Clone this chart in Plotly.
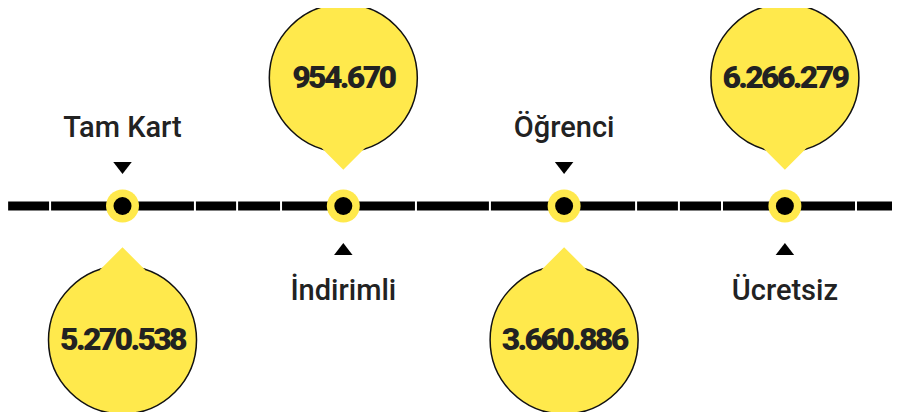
"""Kart tipine göre yolcu sayısı — zaman çizelgesi görünümünde baloncuklar."""

import plotly.graph_objects as go

# --------------------------------------------------------------------------- data
CATEGORIES = ["Tam Kart", "İndirimli", "Öğrenci", "Ücretsiz"]
VALUES = [5270538, 954670, 3660886, 6266279]

# small white notches that split the timeline bar (in category-index units)
LINE_GAPS = [-0.328, 0.328, 0.519, 0.718, 1.329, 1.664, 2.326, 2.520, 2.715, 3.322]
LINE_START, LINE_END = -0.518, 3.507

# --------------------------------------------------------------------------- style
YELLOW = "#FFE94C"
INK = "#222222"
LABEL_FONT = dict(family="Roboto, 'Noto Sans', sans-serif", size=29, color=INK, weight=500)
VALUE_FONT = dict(family="Roboto, sans-serif", size=32, color=INK, weight=900)

# vertical offsets from the timeline (px-like units, + is up)
BUBBLE_Y = {"top": 128, "bottom": -134}
VALUE_Y = {"top": 126, "bottom": -136}
POINTER_Y = {"top": 59, "bottom": -64}
LABEL_Y = {"top": 76, "bottom": -87}
ARROW_Y = {"top": 40, "bottom": -45}


def fmt(v: int) -> str:
    s = f"{v:,}".replace(",", ".")
    return f'<span style="letter-spacing:-2.7px">{s}</span>'


xs = list(range(len(CATEGORIES)))
# bubbles alternate: below the line for even items, above for odd ones; label goes opposite
bubble_side = ["top" if i % 2 else "bottom" for i in xs]
label_side = ["bottom" if s == "top" else "top" for s in bubble_side]

fig = go.Figure()

# timeline bar
fig.add_scatter(
    x=[LINE_START, LINE_END],
    y=[0, 0],
    mode="lines",
    line=dict(color="#000000", width=9),
)
fig.add_scatter(
    x=LINE_GAPS,
    y=[0] * len(LINE_GAPS),
    mode="markers",
    marker=dict(symbol="line-ns", size=12, line=dict(color="white", width=2)),
)

# dots on the line
fig.add_scatter(
    x=xs, y=[0] * len(xs), mode="markers",
    marker=dict(symbol="circle", size=33, color=YELLOW, line=dict(width=0)),
)
fig.add_scatter(
    x=xs, y=[0] * len(xs), mode="markers",
    marker=dict(symbol="circle", size=18, color="#000000", line=dict(width=0)),
)

# bubbles with a pointer toward the line
fig.add_scatter(
    x=xs,
    y=[BUBBLE_Y[s] for s in bubble_side],
    mode="markers",
    marker=dict(symbol="circle", size=148, color=YELLOW, line=dict(color="#111111", width=1.5)),
)
fig.add_scatter(
    x=xs,
    y=[POINTER_Y[s] for s in bubble_side],
    mode="markers",
    marker=dict(symbol="diamond", size=35, color=YELLOW, line=dict(width=0)),
)
fig.add_scatter(
    x=xs,
    y=[VALUE_Y[s] for s in bubble_side],
    mode="text",
    text=[fmt(v) for v in VALUES],
    textposition="middle center",
    textfont=VALUE_FONT,
)

# category labels with small arrows
fig.add_scatter(
    x=xs,
    y=[ARROW_Y[s] for s in label_side],
    mode="markers",
    marker=dict(
        symbol=["triangle-down" if s == "top" else "triangle-up" for s in label_side],
        size=16,
        color="#000000",
        line=dict(width=0),
    ),
)
fig.add_scatter(
    x=xs,
    y=[LABEL_Y[s] for s in label_side],
    mode="text",
    text=CATEGORIES,
    textposition="middle center",
    textfont=LABEL_FONT,
)

# the page body keeps an 8px margin, so the ranges are set to land on the same spots
fig.update_xaxes(visible=False, range=[-0.5186, 3.5575], fixedrange=True)
fig.update_yaxes(visible=False, range=[-214, 198], fixedrange=True)
fig.update_layout(
    width=900,
    height=412,
    margin=dict(l=0, r=0, t=0, b=0),
    showlegend=False,
    hovermode=False,
    plot_bgcolor="white",
    paper_bgcolor="white",
)

fig.write_html("out.html")
